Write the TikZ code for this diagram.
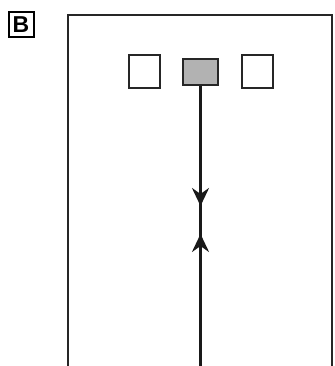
\documentclass[tikz,border=0pt]{standalone}
\usepackage{fontspec}
\setmainfont{Liberation Sans}
\usetikzlibrary{arrows.meta}
\begin{document}
\begin{tikzpicture}[x=1pt,y=-1pt,
  frame/.style={draw=black!85,line width=2.4pt},
  sq/.style={draw=black!85,line width=1.6pt,fill=white},
  grey/.style={draw=black!85,line width=1.6pt,fill=black!30},
  vline/.style={draw=black!90,line width=2.8pt},
  flow/.style={draw=black!90,line width=2.8pt,-{Stealth[length=18pt,width=17pt,inset=6pt]}},
  lab/.style={draw=black,line width=2pt,inner sep=0pt,minimum width=25pt,minimum height=25pt,font=\bfseries\fontsize{23}{23}\selectfont}]
\useasboundingbox (0,0) rectangle (334,366);
\node[lab] (B) at (21,25) {B};
\draw[frame] (68,367) -- (68,15) -- (332,15) -- (332,367);
\node[sq,minimum width=31pt,minimum height=33pt,inner sep=0pt] (s1) at (144.5,71.5) {};
\node[grey,minimum width=35pt,minimum height=26pt,inner sep=0pt] (g) at (200.5,72) {};
\node[sq,minimum width=31pt,minimum height=33pt,inner sep=0pt] (s2) at (257.5,71.5) {};
\coordinate (d) at (200.5,206);
\coordinate (d0) at (200.5,180);
\coordinate (u) at (200.5,234);
\coordinate (u0) at (200.5,260);
\coordinate (bot) at (200.5,368);
\draw[vline] (g.south) -- (bot);
\draw[flow] (d0) -- (d);
\draw[flow] (u0) -- (u);
\end{tikzpicture}
\end{document}
